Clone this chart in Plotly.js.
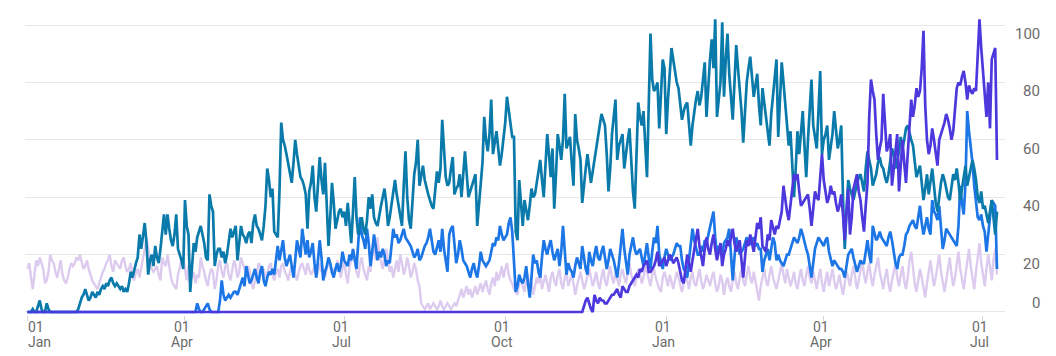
<!DOCTYPE html>
<html><head><meta charset="utf-8">
<script src="https://cdn.plot.ly/plotly-3.0.1.min.js"></script>
<style>html,body{margin:0;padding:0;background:#fff;} #chart{width:1056px;height:356px;}</style>
</head><body><div id="chart"></div>
<script>
// Daily values, first point = 2022-01-01
const startDate = '2022-01-01';

const seriesTeal = [
0,0,0,1,0,0,2,4,1,0, 0,3,1,0,0,0,0,0,0,0, 0,0,0,0,0,0,0,0,0,1,
3,5,6,8,6,4,5,7,6,5, 7,6,8,9,8,10,9,11,12,10, 9,10,9,8,9,7,8,7,10,14,
12,15,17,19,27,22,26,31,24,13, 18,20,16,23,19,17,22,28,34,27, 34,29,25,23,27,34,22,20,18,15,
39,30,27,7,15,24,21,26,28,30, 27,24,19,18,41,37,35,16,20,22, 22,19,21,17,20,25,29,26,28,30,
18,25,30,27,26,24,27,28,24,31, 34,30,29,27,25,30,37,50,46,40, 43,28,27,26,42,66,60,58,55,52,
48,45,52,60,55,50,47,46,44,41, 29,42,45,51,40,35,45,54,46,41, 52,35,23,33,45,38,29,32,35,36,
33,35,30,38,31,24,35,47,33,27, 30,33,29,27,32,40,36,41,33,31, 30,34,37,40,43,38,30,33,38,42,
46,41,37,33,30,44,56,40,32,29, 41,48,52,60,44,47,51,46,43,41, 39,37,36,42,49,45,50,67,55,47,
44,45,50,54,41,43,44,48,40,47, 56,48,40,42,44,46,48,30,38,45, 52,68,60,56,62,74,55,59,63,57,
51,55,60,66,75,70,64,61,61,28, 25,46,38,30,39,36,32,37,43,40, 41,45,49,53,46,40,51,62,55,47,
57,36,48,62,58,53,60,76,57,59, 61,52,44,69,60,57,53,38,45,50, 55,50,45,49,53,57,61,65,69,67,
65,55,42,50,62,68,74,53,58,60, 62,50,56,60,64,52,42,36,55,73, 68,65,70,58,47,72,97,81,77,78,
80,64,75,88,85,62,74,83,92,88, 84,80,78,71,67,70,72,73,66,58, 65,70,74,77,72,75,80,87,68,79,
88,95,85,102,68,74,80,101,75,88, 97,83,75,67,80,93,85,78,70,59, 68,80,85,89,82,75,79,83,72,65,
78,73,68,63,58,69,75,80,88,61, 72,87,80,73,65,58,63,52,40,50, 63,55,62,70,58,47,60,72,81,65,
60,57,70,84,55,60,62,65,53,58, 62,70,64,57,60,65,40,22,35,46, 43,41,39,42,45,47,48,45,42,50,
56,53,50,44,46,48,52,54,51,50, 47,45,48,52,57,55,50,53,56,61, 57,60,64,65,62,60,58,52,47,49,
51,45,39,43,48,41,45,50,44,38, 35,41,45,48,46,43,40,39,44,48, 46,50,45,39,43,48,51,44,47,50,
53,50,46,40,38,42,36,37,34,31, 35,39,33,27,35
];

const seriesBlue = [
0,0,0,0,0,0,0,0,0,0, 0,0,0,0,0,0,0,0,0,0, 0,0,0,0,0,0,0,0,0,0, 0,0,0,0,0,0,0,0,0,0,
0,0,0,0,0,0,0,0,0,0, 0,0,0,0,0,0,0,0,0,0, 0,0,0,0,0,0,0,0,0,0, 0,0,0,0,0,0,0,0,0,0,
0,0,0,0,0,0,0,0,0,0, 0,0,0,0,0,0,0,3,1,0,
0,1,2,3,1,0,0,0,0,0, 4,11,6,4,5,6,5,6,7,7, 6,8,10,12,9,16,13,10,11,13,
15,12,10,14,16,11,9,12,14,13, 15,13,18,23,18,21,25,19,16,18, 20,16,12,18,25,22,19,29,24,20,
25,19,21,24,17,12,18,25,19,11, 14,16,19,17,14,12,15,17,14,16, 21,18,17,16,20,18,22,19,15,24,
33,27,25,22,29,24,16,21,27,23, 18,21,19,22,20,16,18,17,24,29, 26,27,24,25,27,29,26,25,24,23,
21,19,20,22,18,19,21,23,24,26, 29,24,21,20,23,25,21,29,22,18, 14,27,29,30,24,17,20,25,22,18,
17,16,14,12,15,17,14,12,16,21, 18,17,16,17,18,21,24,23,26,25, 30,27,25,26,27,31,33,28,15,7,
9,13,11,10,12,16,10,5,12,20, 17,18,14,12,19,25,22,20,23,25, 21,18,20,22,16,21,30,20,13,17,
15,14,12,16,19,17,15,23,18,15, 13,21,18,16,20,23,19,18,21,23, 19,15,18,22,20,18,15,12,17,23,
29,22,17,13,20,23,26,22,20,21, 22,19,16,20,24,19,15,21,26,24, 30,20,17,15,19,22,20,18,19,20,
22,24,23,23,18,15,14,12,18,23, 29,25,22,20,20,23,21,25,24,27, 30,32,35,26,20,23,21,20,24,25,
26,29,20,11,19,26,23,20,21,22, 24,26,25,24,25,26,23,24,22,22, 14,18,20,22,18,22,26,24,18,20,
18,17,16,18,20,20,22,24,26,25, 24,26,29,27,24,22,20,15,12,17, 22,24,26,25,24,23,25,26,21,18,
16,18,17,16,15,15,14,12,16,20, 21,22,19,16,14,16,18,17,17,21, 25,20,17,30,27,25,26,28,26,25,
24,23,26,28,25,20,17,15,19,20, 20,23,27,28,30,31,32,30,29,33, 37,31,27,30,33,29,27,39,35,34,
32,37,30,22,25,29,28,27,26,25, 24,23,30,44,38,34,45,70,63,58, 52,44,37,33,32,34,30,28,21,27,
33,39,38,37,15
];

const seriesIndigo = [
0,0,0,0,0,0,0,0,0,0, 0,0,0,0,0,0,0,0,0,0, 0,0,0,0,0,0,0,0,0,0, 0,0,0,0,0,0,0,0,0,0,
0,0,0,0,0,0,0,0,0,0, 0,0,0,0,0,0,0,0,0,0, 0,0,0,0,0,0,0,0,0,0, 0,0,0,0,0,0,0,0,0,0,
0,0,0,0,0,0,0,0,0,0, 0,0,0,0,0,0,0,0,0,0, 0,0,0,0,0,0,0,0,0,0, 0,0,0,0,0,0,0,0,0,0,
0,0,0,0,0,0,0,0,0,0, 0,0,0,0,0,0,0,0,0,0, 0,0,0,0,0,0,0,0,0,0, 0,0,0,0,0,0,0,0,0,0,
0,0,0,0,0,0,0,0,0,0, 0,0,0,0,0,0,0,0,0,0, 0,0,0,0,0,0,0,0,0,0, 0,0,0,0,0,0,0,0,0,0,
0,0,0,0,0,0,0,0,0,0, 0,0,0,0,0,0,0,0,0,0, 0,0,0,0,0,0,0,0,0,0, 0,0,0,0,0,0,0,0,0,0,
0,0,0,0,0,0,0,0,0,0, 0,0,0,0,0,0,0,0,0,0, 0,0,0,0,0,0,0,0,0,0, 0,0,0,0,0,0,0,0,0,0,
0,0,0,0,0,0,0,0,0,0, 0,0,0,0,0,0,0,0,0,0, 0,0,0,0,0,0,0,0,0,0,
0,0,0,0,0,0,0, 0,2,4,
5,3,1,0,6,4,3,5,4,4, 3,3,4,5,6,6,7,8,6,5, 9,8,7,7,9,10,11,12,13,12,
15,14,16,17,18,14,14,15,16,18, 21,16,17,18,19,16,18,20,19,17, 18,19,17,14,11,10,15,20,17,14,
18,22,25,29,23,19,16,22,26,22, 20,24,27,22,18,21,24,16,20,22, 25,23,26,29,24,21,23,25,18,12,
19,25,23,27,24,21,26,31,29,33, 23,22,21,27,25,32,29,27,30,29, 32,35,44,39,35,32,37,44,48,46,
48,42,37,38,39,40,41,36,30,36, 42,40,39,47,55,46,42,38,40,44, 41,42,38,35,37,41,34,25,35,43,
27,33,43,46,48,42,39,33,28,37, 45,68,81,77,74,62,53,57,60,76, 66,56,58,62,44,50,55,62,42,51,
60,52,45,55,65,74,68,72,78,75, 77,85,98,72,60,55,58,64,60,55, 51,60,62,64,66,69,67,64,60,63,
70,78,80,79,82,84,80,74,79,77, 76,78,77,90,102,92,85,75,68,80, 64,88,90,92,53
];

const seriesLavender = [
15,17,12,8,13,18,16,19,17,15, 10,11,14,20,18,17,14,12,15,18, 13,11,10,12,15,17,16,17,19,18,
20,17,15,16,18,15,13,11,10,9, 8,10,12,14,15,17,18,20,16,14, 18,17,16,15,18,19,16,14,15,17,
12,11,14,15,12,15,18,22,26,21, 18,15,14,15,16,13,11,19,17,16, 20,16,12,10,9,8,13,16,18,19,
14,11,16,17,12,14,10,13,12,19, 16,14,11,9,13,15,14,8,11,16, 18,14,12,16,17,13,11,15,18,16,
12,14,19,17,15,13,16,14,10,8, 11,13,17,16,14,15,12,13,16,17, 13,11,14,15,12,16,17,14,13,11,
14,16,15,13,11,14,16,17,15,13, 17,15,13,14,16,12,14,17,14,15, 12,15,17,16,13,15,14,18,16,12,
15,18,13,10,16,18,21,17,14,12, 17,19,15,13,11,16,14,20,24,18, 26,20,17,15,19,22,18,14,16,12,
15,18,14,20,17,13,15,19,16,12, 14,17,15,11,9,3,2,1,2,3, 1,2,3,2,1,2,4,2,1,2,
3,2,1,2,3,2,4,6,8,5, 7,9,6,8,5,7,9,6,8,10, 7,9,11,8,6,10,12,9,14,11,
13,16,12,15,17,13,11,10,8,7, 6,10,12,9,7,11,13,8,10,6, 9,12,10,14,8,11,13,10,7,12,
14,11,9,13,15,10,8,12,14,9, 11,13,10,6,9,12,14,11,8,10, 13,15,12,9,11,14,10,8,12,15,
11,9,13,16,12,10,14,11,9,13, 15,12,10,14,17,13,11,9,12,15, 13,10,12,16,14,11,9,13,15,12,
10,8,7,12,14,11,9,13,10,8, 11,14,12,9,7,10,13,11,8,12, 14,10,9,12,15,11,8,10,13,11,
9,12,14,10,7,9,13,11,6,10, 12,9,7,11,14,10,8,12,15,11, 9,13,16,12,10,14,11,8,4,9,
12,15,11,9,13,16,12,10,8,11, 14,17,13,10,15,12,9,11,14,10, 8,12,15,11,9,13,16,12,10,14,
11,8,12,15,10,7,11,14,9,12, 15,11,8,10,13,9,6,10,14,12, 9,13,16,12,8,11,15,18,13,10,
14,17,12,9,13,16,19,14,11,8, 12,15,10,7,11,14,17,12,9,13, 16,11,8,12,18,21,14,10,7,11,
15,12,9,5,10,14,18,13,9,12, 16,20,14,10,7,11,15,19,13,9, 12,16,21,15,11,8,13,17,22,16,
11,8,14,19,24,17,12,9,15,20, 16,11,18,22,13
];

const tickDates  = ['2022-01-01','2022-04-01','2022-07-01','2022-10-01','2023-01-01','2023-04-01','2023-07-01'];
const tickDays   = ['01','01','01','01','01','01','01'];
const tickMonths = ['Jan','Apr','Jul','Oct','Jan','Apr','Jul'];
const yTicks     = [0,20,40,60,80,100];

function buildDates(n){
  const out=[]; const t0=Date.parse(startDate+'T00:00:00Z');
  for(let i=0;i<n;i++){ out.push(new Date(t0+i*86400000).toISOString().slice(0,10)); }
  return out;
}

const traces = [
  {name:'lavender', data:seriesLavender, color:'#dccbef', width:2.4},
  {name:'blue',     data:seriesBlue,     color:'#1c76e6', width:2.7},
  {name:'teal',     data:seriesTeal,     color:'#0a7aab', width:2.7},
  {name:'indigo',   data:seriesIndigo,   color:'#4d38dd', width:2.7}
].map(s => ({
  type:'scatter', mode:'lines', name:s.name,
  x: buildDates(s.data.length), y: s.data,
  line:{color:s.color, width:s.width, shape:'linear'},
  hoverinfo:'skip', showlegend:false
}));

const annotations = [];
yTicks.forEach(v => {
  annotations.push({
    xref:'paper', x:1, xanchor:'right', xshift:37,
    yref:'y', y:v, yanchor:'middle', yshift: v===0 ? 9 : -9,
    text:String(v), showarrow:false,
    font:{family:'Roboto, Arial, sans-serif', size:15, color:'#6b6b6b'}
  });
});
tickDates.forEach((d,i) => {
  const first = i===0;
  annotations.push({
    xref:'x', x:d, xanchor: first ? 'left' : 'center', xshift: first ? -1 : -3,
    yref:'paper', y:0, yanchor:'middle', yshift:-12,
    text:tickDays[i], showarrow:false,
    font:{family:'Roboto, Arial, sans-serif', size:14, color:'#6b6b6b'}
  });
  annotations.push({
    xref:'x', x:d, xanchor: first ? 'left' : 'center', xshift: first ? -1 : -3,
    yref:'paper', y:0, yanchor:'middle', yshift:-27,
    text:tickMonths[i], showarrow:false,
    font:{family:'Roboto, Arial, sans-serif', size:14, color:'#6b6b6b'}
  });
});

const layout = {
  width:1056, height:356,
  margin:{l:25, r:51, t:15, b:41, pad:0},
  paper_bgcolor:'#ffffff', plot_bgcolor:'#ffffff',
  showlegend:false,
  xaxis:{
    type:'date', range:['2021-12-30 14:00','2023-07-13 14:00'],
    tickvals:tickDates, ticks:'outside', ticklen:5, tickcolor:'#d6d6d6', tickwidth:1,
    showticklabels:false, showgrid:false, zeroline:false, showline:false, fixedrange:true
  },
  yaxis:{
    range:[-1.05, 103.5], tickvals:yTicks, showticklabels:false, side:'right',
    showgrid:true, gridcolor:'#e7e7e7', gridwidth:1, zeroline:false, showline:false, ticks:'', fixedrange:true
  },
  annotations: annotations
};

Plotly.newPlot('chart', traces, layout, {staticPlot:true, displayModeBar:false});
</script>
</body></html>
